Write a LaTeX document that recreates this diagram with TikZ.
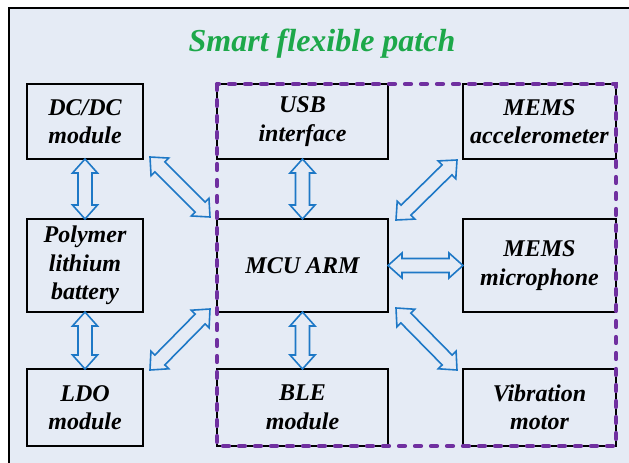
\documentclass[tikz,border=0pt]{standalone}
\usepackage{fontspec}
\setmainfont{Liberation Serif}[BoldItalicFont={Liberation Serif Bold Italic}]
\usepackage{tikz}
\usetikzlibrary{calc}

\definecolor{patchbg}{HTML}{E5EBF5}
\definecolor{patchgreen}{HTML}{1DA84A}
\definecolor{patchpurple}{HTML}{7030A0}
\definecolor{patchblue}{HTML}{1E78C6}

\newcommand{\ahlen}{14}
\newcommand{\ahwid}{12.5}
\newcommand{\ashaft}{7}
\newcommand{\DArrow}[2]{%
  \draw[darrow] let \p1=(#1), \p2=(#2), \n1={atan2(\y2-\y1,\x2-\x1)} in
    (\p1) -- ($(\p1)+(\n1:\ahlen pt)+(\n1+90:\ahwid pt)$)
    -- ($(\p1)+(\n1:\ahlen pt)+(\n1+90:\ashaft pt)$)
    -- ($(\p2)+(\n1+180:\ahlen pt)+(\n1+90:\ashaft pt)$)
    -- ($(\p2)+(\n1+180:\ahlen pt)+(\n1+90:\ahwid pt)$)
    -- (\p2)
    -- ($(\p2)+(\n1+180:\ahlen pt)+(\n1-90:\ahwid pt)$)
    -- ($(\p2)+(\n1+180:\ahlen pt)+(\n1-90:\ashaft pt)$)
    -- ($(\p1)+(\n1:\ahlen pt)+(\n1-90:\ashaft pt)$)
    -- ($(\p1)+(\n1:\ahlen pt)+(\n1-90:\ahwid pt)$) -- cycle;}

\begin{document}
\begin{tikzpicture}[x=1pt,y=-1pt,
  box/.style 2 args={draw, line width=1.5pt, minimum width=#1, minimum height=#2,
    inner sep=0pt, outer sep=0pt, align=center,
    font=\fontsize{24}{28.5}\selectfont\bfseries\itshape},
  title/.style={text=patchgreen, font=\fontsize{32}{36}\selectfont\bfseries\itshape},
  darrow/.style={draw=patchblue, line width=1.6pt, line join=miter},
  group/.style={draw=patchpurple, line width=4.2pt, line cap=round,
    dash pattern=on 6pt off 10pt}]
	\path[use as bounding box, clip] (0,0) rectangle (629,463);
	\draw[line width=1.6pt, fill=patchbg] (9,8) rectangle (680,500);

	\node[title] (title) at (322,44) {Smart flexible patch};

	\node[box={116pt}{75pt}] (dcdc)    at (85,121.5)  {DC/DC\\module};
	\node[box={116pt}{93pt}] (battery) at (85,265.5)  {Polymer\\lithium\\battery};
	\node[box={116pt}{77pt}] (ldo)     at (85,407.5)  {LDO\\module};

	\node[box={171pt}{75pt}] (usb) at (302.5,121.5) {USB\\interface};
	\node[box={171pt}{93pt}] (mcu) at (302.5,265.5) {MCU ARM};
	\node[box={171pt}{77pt}] (ble) at (302.5,407.5) {BLE\\module};

	\node[box={153pt}{75pt}] (accel) at (539.5,121.5) {MEMS\\accelerometer};
	\node[box={153pt}{93pt}] (micro) at (539.5,265.5) {MEMS\\microphone};
	\node[box={153pt}{77pt}] (vib)   at (539.5,407.5) {Vibration\\motor};

	\draw[group] (usb.north west) rectangle (vib.south east);

	\DArrow{dcdc.south}{battery.north}
	\DArrow{battery.south}{ldo.north}
	\DArrow{usb.south}{mcu.north}
	\DArrow{mcu.south}{ble.north}
	\DArrow{mcu.east}{micro.west}
	\DArrow{[xshift=7pt,yshift=2pt]dcdc.south east}{[xshift=-7pt,yshift=2pt]mcu.north west}
	\DArrow{[xshift=7pt,yshift=-1pt]ldo.north east}{[xshift=-7pt,yshift=3pt]mcu.south west}
	\DArrow{[xshift=8pt,yshift=-1pt]mcu.north east}{[xshift=-6pt,yshift=-1pt]accel.south west}
	\DArrow{[xshift=8pt,yshift=4pt]mcu.south east}{[xshift=-6pt,yshift=-1pt]vib.north west}

\end{tikzpicture}
\end{document}
